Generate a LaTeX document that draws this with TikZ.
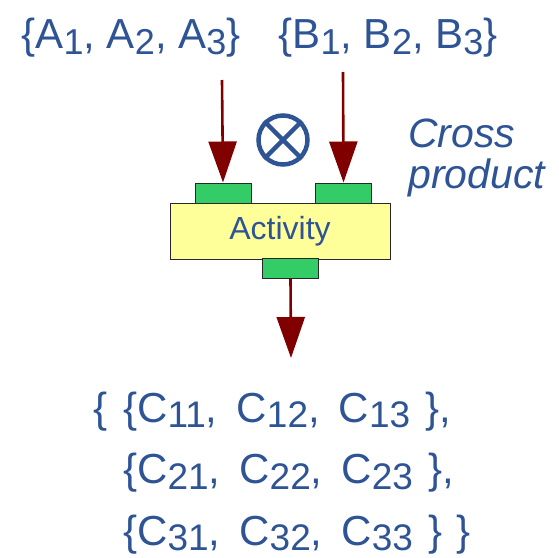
\documentclass[tikz,border=0pt]{standalone}
\usepackage{fontspec}
\setmainfont{Liberation Sans}
\usetikzlibrary{arrows.meta}
\definecolor{txtblue}{RGB}{46,84,150}
\definecolor{flowred}{RGB}{128,0,0}
\definecolor{pingreen}{RGB}{52,204,102}
\definecolor{actyellow}{RGB}{255,255,153}
\definecolor{edgegray}{RGB}{40,40,40}
% subscripts for the input sets and the result set
\newcommand{\subA}[1]{\raisebox{-6pt}{\fontsize{36}{36}\selectfont #1}}
\newcommand{\subC}[1]{\raisebox{-5.5pt}{\fontsize{37}{37}\selectfont #1}}
% wider gap after a comma in the result set
\newcommand{\sep}{,\hspace{19pt}}
\tikzset{
  settext/.style={text=txtblue, inner sep=0pt, font=\fontsize{42}{50}\selectfont},
  pinbox/.style={draw=edgegray, line width=1pt, fill=pingreen, minimum width=56pt, minimum height=20pt, inner sep=0pt},
  actbox/.style={draw=edgegray, line width=1pt, fill=actyellow, minimum width=220pt, minimum height=56pt, inner sep=0pt,
                 text=txtblue, font=\fontsize{32}{32}\selectfont},
  flow/.style={draw=flowred, line width=2.6pt, -{Triangle[length=41pt,width=28pt]}},
}
\begin{document}
\begin{tikzpicture}[x=1pt,y=-1pt]
\useasboundingbox (0,0) rectangle (559,557);

% input sets
\node[settext, anchor=base] (setA) at (131,48) {\{A\subA{1}, A\subA{2}, A\subA{3}\}};
\node[settext, anchor=base] (setB) at (388,48) {\{B\subA{1}, B\subA{2}, B\subA{3}\}};

% activity with its pins
\node[actbox] (act) at (280,231) {\raisebox{-3pt}{Activity}};
\node[pinbox] (pinA) at (223,193) {};
\node[pinbox] (pinB) at (343.5,193) {};
\node[pinbox] (pinC) at (290.5,268.5) {};

% cross product operator
\node[draw=txtblue, line width=4.5pt, circle, minimum size=49pt, inner sep=0pt] (cross) at (283,140) {};
\draw[txtblue, line width=4.5pt] (cross.north east) -- (cross.south west);
\draw[txtblue, line width=4.5pt] (cross.north west) -- (cross.south east);

\node[text=txtblue, inner sep=0pt, anchor=base west, align=left, font=\fontsize{41}{41}\selectfont\itshape] (note) at (408,188) {Cross\\product};

% flows
\coordinate (startA) at (222,80);
\coordinate (startB) at (343,72);
\coordinate (endC) at (291,358);
\draw[flow] (startA) -- (pinA.north);
\draw[flow] (startB) -- (pinB.north);
\draw[flow] (pinC.south) -- (endC);

% result set
\node[text=txtblue, inner sep=0pt, anchor=base west, align=left, font=\fontsize{42}{61.5}\selectfont] (setC) at (93,545)
  {\{\hspace{16pt}\{C\subC{11}\sep C\subC{12}\sep C\subC{13}\hspace{15pt}\},\\
   \phantom{\{\hspace{16pt}}\{C\subC{21}\sep C\subC{22}\sep C\subC{23}\hspace{15pt}\},\\
   \phantom{\{\hspace{16pt}}\{C\subC{31}\sep C\subC{32}\sep C\subC{33}\hspace{15pt}\}\hspace{14pt}\}};
\end{tikzpicture}
\end{document}
